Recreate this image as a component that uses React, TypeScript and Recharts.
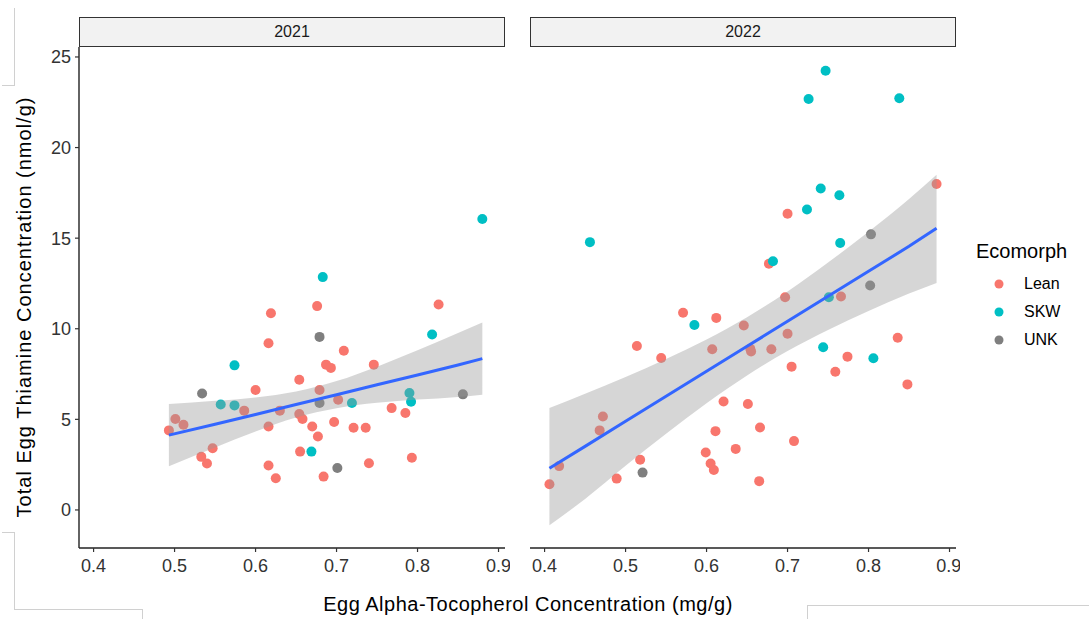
import { Area, ComposedChart, Line, Scatter, XAxis, YAxis } from "recharts";

const X_TICKS = [0.4, 0.5, 0.6, 0.7, 0.8, 0.9];
const Y_TICKS = [0, 5, 10, 15, 20, 25];
const X_DOMAIN: [number, number] = [0.382, 0.908];
const Y_DOMAIN: [number, number] = [-2.1, 25.55];

const COLORS: Record<string, string> = {
  Lean: "#F8766D",
  SKW: "#00BFC4",
  UNK: "#7F7F7F",
};

// 2021 panel
const LEAN_2021: [number, number][] = [
  [0.493, 4.39], [0.501, 5.02], [0.511, 4.7], [0.533, 2.93], [0.54, 2.56],
  [0.547, 3.41], [0.586, 5.48], [0.6, 6.62], [0.616, 9.2], [0.619, 10.86],
  [0.616, 4.61], [0.616, 2.45], [0.625, 1.75], [0.63, 5.48], [0.654, 7.19],
  [0.654, 5.29], [0.658, 5.02], [0.655, 3.22], [0.67, 4.61], [0.676, 11.25],
  [0.677, 4.05], [0.679, 6.62], [0.684, 1.84], [0.687, 8.02], [0.693, 7.84],
  [0.697, 4.85], [0.702, 6.08], [0.709, 8.79], [0.721, 4.54], [0.736, 4.54],
  [0.74, 2.58], [0.746, 8.02], [0.768, 5.62], [0.785, 5.35], [0.793, 2.88],
  [0.826, 11.34],
];
const SKW_2021: [number, number][] = [
  [0.557, 5.82], [0.574, 5.77], [0.574, 7.98], [0.669, 3.22], [0.683, 12.85],
  [0.719, 5.9], [0.79, 6.45], [0.792, 5.97], [0.818, 9.68], [0.88, 16.06],
];
const UNK_2021: [number, number][] = [
  [0.534, 6.43], [0.679, 5.9], [0.679, 9.55], [0.701, 2.32], [0.856, 6.38],
];
const BAND_X_2021 = [0.493, 0.55, 0.6, 0.65, 0.7, 0.75, 0.8, 0.85, 0.88];
const BAND_LO_2021 = [2.41, 3.45, 4.33, 5.1, 5.61, 5.91, 6.09, 6.24, 6.36];
const BAND_HI_2021 = [5.85, 6.02, 6.21, 6.54, 7.11, 7.91, 8.81, 9.76, 10.34];
const FIT_2021 = [4.13, 4.73, 5.27, 5.82, 6.36, 6.91, 7.45, 8.0, 8.35];

// 2022 panel
const LEAN_2022: [number, number][] = [
  [0.406, 1.42], [0.418, 2.42], [0.468, 4.39], [0.472, 5.16], [0.489, 1.73],
  [0.514, 9.05], [0.518, 2.77], [0.544, 8.39], [0.571, 10.88], [0.599, 3.17],
  [0.605, 2.56], [0.607, 8.87], [0.609, 2.2], [0.611, 4.35], [0.612, 10.6],
  [0.621, 5.99], [0.636, 3.37], [0.646, 10.18], [0.651, 5.85], [0.654, 8.89],
  [0.655, 8.74], [0.665, 1.59], [0.666, 4.55], [0.677, 13.59], [0.68, 8.87],
  [0.697, 11.74], [0.7, 16.35], [0.7, 9.72], [0.705, 7.91], [0.708, 3.8],
  [0.759, 7.63], [0.766, 11.78], [0.774, 8.46], [0.836, 9.5], [0.848, 6.93],
  [0.884, 17.99],
];
const SKW_2022: [number, number][] = [
  [0.456, 14.78], [0.585, 10.21], [0.682, 13.73], [0.724, 16.58], [0.726, 22.68],
  [0.741, 17.74], [0.744, 8.98], [0.747, 24.24], [0.751, 11.74], [0.764, 17.37],
  [0.765, 14.73], [0.806, 8.37], [0.838, 22.72],
];
const UNK_2022: [number, number][] = [
  [0.521, 2.06], [0.802, 12.39], [0.803, 15.21],
];
const BAND_X_2022 = [0.406, 0.45, 0.5, 0.55, 0.6, 0.65, 0.7, 0.75, 0.8, 0.85, 0.884];
const BAND_LO_2022 = [-0.85, 0.61, 2.44, 4.21, 5.89, 7.42, 8.77, 9.93, 10.98, 11.94, 12.53];
const BAND_HI_2022 = [5.62, 6.41, 7.34, 8.33, 9.41, 10.64, 12.05, 13.65, 15.36, 17.16, 18.5];
const FIT_2022 = [2.3, 3.51, 4.89, 6.27, 7.65, 9.03, 10.41, 11.79, 13.17, 14.55, 15.55];

const FONT = "'Liberation Sans', Arial, sans-serif";

const toPoints = (pairs: [number, number][]) => pairs.map(([x, y]) => ({ x, y }));

const toBand = (xs: number[], lo: number[], hi: number[], fit: number[]) =>
  xs.map((x, i) => ({ x, band: [lo[i], hi[i]], fit: fit[i] }));

const dot = (color: string) => (p: any) => (
  <circle cx={p.cx} cy={p.cy} r={5} fill={color} />
);

interface PanelProps {
  year: string;
  left: number;
  width: number;
  showY: boolean;
  lean: [number, number][];
  skw: [number, number][];
  unk: [number, number][];
  band: { x: number; band: number[]; fit: number }[];
}

function Panel({ year, left, width, showY, lean, skw, unk, band }: PanelProps) {
  const plotLeft = showY ? 79 : 0;
  return (
    <>
      <div
        style={{
          position: "absolute",
          left: left + plotLeft,
          top: 17,
          width: width - plotLeft - (showY ? 5 : 4),
          height: 30,
          boxSizing: "border-box",
          border: "1.5px solid #333",
          background: "#f2f2f2",
          display: "flex",
          alignItems: "center",
          justifyContent: "center",
          fontSize: 16,
          color: "#1a1a1a",
        }}
      >
        {year}
      </div>
      <div style={{ position: "absolute", left, top: 0 }}>
        <ComposedChart
          width={width}
          height={590}
          data={band}
          margin={{ top: 47, right: showY ? 5 : 4, bottom: 0, left: 0 }}
        >
          <XAxis
            type="number"
            dataKey="x"
            domain={X_DOMAIN}
            ticks={X_TICKS}
            allowDataOverflow
            tickFormatter={(v: number) => v.toFixed(1)}
            tick={{ fontSize: 18, fill: "#333" }}
            tickSize={4}
            tickMargin={7}
            height={42}
            axisLine={{ stroke: "#222", strokeWidth: 1.4 }}
            tickLine={{ stroke: "#333", strokeWidth: 1.2 }}
          />
          <YAxis
            type="number"
            domain={Y_DOMAIN}
            ticks={Y_TICKS}
            allowDataOverflow
            hide={!showY}
            width={79}
            tick={{ fontSize: 18, fill: "#333" }}
            tickSize={4}
            tickMargin={4}
            axisLine={{ stroke: "#222", strokeWidth: 1.4 }}
            tickLine={{ stroke: "#333", strokeWidth: 1.2 }}
          />
          <Scatter data={toPoints(lean)} dataKey="y" shape={dot(COLORS.Lean)} isAnimationActive={false} zIndex={50} />
          <Scatter data={toPoints(skw)} dataKey="y" shape={dot(COLORS.SKW)} isAnimationActive={false} zIndex={50} />
          <Scatter data={toPoints(unk)} dataKey="y" shape={dot(COLORS.UNK)} isAnimationActive={false} zIndex={50} />
          <Area
            type="monotone"
            dataKey="band"
            fill="#999999"
            fillOpacity={0.4}
            stroke="none"
            isAnimationActive={false}
            activeDot={false}
          />
          <Line
            type="linear"
            dataKey="fit"
            stroke="#3366FF"
            strokeWidth={3}
            dot={false}
            activeDot={false}
            isAnimationActive={false}
          />
        </ComposedChart>
      </div>
    </>
  );
}

const LEGEND = ["Lean", "SKW", "UNK"];
const LEGEND_Y = [284, 312, 340];

const faint = "#d0d0d0";

export default function App() {
  return (
    <div
      style={{
        position: "fixed",
        left: 0,
        top: 0,
        width: 1089,
        height: 619,
        background: "#fff",
        fontFamily: FONT,
        overflow: "hidden",
      }}
    >
      {/* stray frame lines from the source image */}
      <div style={{ position: "absolute", left: 14, top: 8, width: 1, height: 77, background: faint }} />
      <div style={{ position: "absolute", left: 2, top: 85, width: 13, height: 1, background: faint }} />
      <div style={{ position: "absolute", left: 2, top: 532, width: 13, height: 1, background: faint }} />
      <div style={{ position: "absolute", left: 14, top: 532, width: 1, height: 78, background: faint }} />
      <div style={{ position: "absolute", left: 14, top: 609, width: 128, height: 1, background: faint }} />
      <div style={{ position: "absolute", left: 142, top: 609, width: 1, height: 10, background: faint }} />
      <div style={{ position: "absolute", left: 807, top: 605, width: 1, height: 14, background: faint }} />
      <div style={{ position: "absolute", left: 807, top: 605, width: 282, height: 1, background: faint }} />

      <Panel
        year="2021"
        left={0}
        width={510}
        showY
        lean={LEAN_2021}
        skw={SKW_2021}
        unk={UNK_2021}
        band={toBand(BAND_X_2021, BAND_LO_2021, BAND_HI_2021, FIT_2021)}
      />
      <Panel
        year="2022"
        left={530}
        width={430}
        showY={false}
        lean={LEAN_2022}
        skw={SKW_2022}
        unk={UNK_2022}
        band={toBand(BAND_X_2022, BAND_LO_2022, BAND_HI_2022, FIT_2022)}
      />

      <div
        style={{
          position: "absolute",
          left: 24,
          top: 307,
          transform: "translate(-50%, -50%) rotate(-90deg)",
          whiteSpace: "nowrap",
          fontSize: 20,
          letterSpacing: 1,
          color: "#000",
        }}
      >
        Total Egg Thiamine Concentration (nmol/g)
      </div>
      <div
        style={{
          position: "absolute",
          left: 528,
          top: 604,
          transform: "translate(-50%, -50%)",
          whiteSpace: "nowrap",
          fontSize: 20,
          letterSpacing: 0.5,
          color: "#000",
        }}
      >
        Egg Alpha-Tocopherol Concentration (mg/g)
      </div>

      <div
        style={{
          position: "absolute",
          left: 976,
          top: 251,
          transform: "translateY(-50%)",
          fontSize: 20,
          color: "#000",
        }}
      >
        Ecomorph
      </div>
      {LEGEND.map((name, i) => (
        <div key={name}>
          <svg
            width={12}
            height={12}
            style={{ position: "absolute", left: 993, top: LEGEND_Y[i] - 6 }}
          >
            <circle cx={6} cy={6} r={4.5} fill={COLORS[name]} />
          </svg>
          <div
            style={{
              position: "absolute",
              left: 1024,
              top: LEGEND_Y[i],
              transform: "translateY(-50%)",
              fontSize: 16,
              color: "#000",
            }}
          >
            {name}
          </div>
        </div>
      ))}
    </div>
  );
}
